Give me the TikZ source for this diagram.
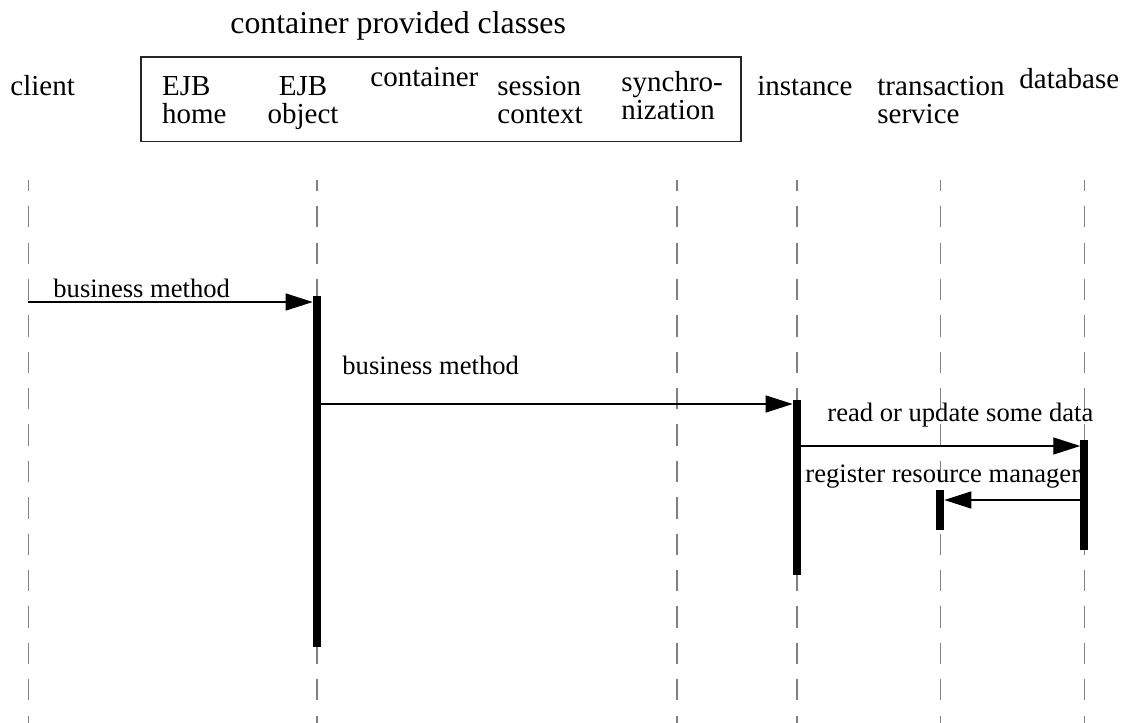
\documentclass[tikz,border=0pt]{standalone}
\usepackage{fontspec}
\setmainfont{Liberation Serif}
\usetikzlibrary{arrows.meta}
\definecolor{lifegray}{HTML}{808080}
\begin{document}
\begin{tikzpicture}[x=0.5pt,y=-0.5pt,
  hdr/.style={anchor=base west, inner sep=0pt, font=\fontsize{14.5}{14}\selectfont},
  hdrc/.style={anchor=base, inner sep=0pt, font=\fontsize{14.5}{14}\selectfont},
  ttl/.style={anchor=base west, inner sep=0pt, font=\fontsize{15.9}{18}\selectfont},
  lbl/.style={anchor=base west, inner sep=0pt, font=\fontsize{13.3}{16}\selectfont},
  lifeline/.style={draw=lifegray, line width=0.8pt, dash pattern=on 10.65pt off 7.54pt, dash phase=5.1pt},
  actbar/.style={fill=black, draw=none, minimum width=4pt, inner sep=0pt, outer sep=0pt},
  msg/.style={line width=0.6pt, -{Triangle[length=13.5pt,width=8.5pt]}},
  grp/.style={draw=black!85, line width=0.8pt, inner sep=0pt, outer sep=0pt}]
\useasboundingbox (0,0) rectangle (1131,723);

% title and group box
\node[ttl] (title) at (230,33) {container provided classes};
\node[grp, anchor=north west, minimum width=300pt, minimum height=42.25pt] (box) at (140.7,57) {};

% header labels
\node[hdr] (client) at (10,95) {client};
\node[hdr] (ejbhome) at (161.7,95) {\begin{tabular}[t]{@{}l@{}}EJB\\home\end{tabular}};
\node[hdrc] (ejbobject) at (303,95) {\begin{tabular}[t]{@{}c@{}}EJB\\object\end{tabular}};
\node[hdr] (container) at (370,86) {container};
\node[hdr] (session) at (497,95) {\begin{tabular}[t]{@{}l@{}}session\\context\end{tabular}};
\node[hdr] (sync) at (621,91) {\begin{tabular}[t]{@{}l@{}}synchro-\\nization\end{tabular}};
\node[hdr] (instance) at (757,95) {instance};
\node[hdr] (txservice) at (877,95) {\begin{tabular}[t]{@{}l@{}}transaction\\service\end{tabular}};
\node[hdr] (database) at (1019,88) {database};

% lifelines
\foreach \n/\x in {lc/28.3, lo/316.7, ls/676.7, li/796.7, lt/940.3, ld/1084.3}{
  \coordinate (\n-top) at (\x,180);
  \coordinate (\n-bot) at (\x,723);
  \draw[lifeline] (\n-top) -- (\n-bot);
}

% activation bars
\node[actbar, minimum height=175.5pt] (ejbbar) at (316.7,471.5) {};
\node[actbar, minimum height=87.5pt] (instbar) at (796.7,487.5) {};
\node[actbar, minimum height=55pt] (dbbar) at (1084.3,495) {};
\node[actbar, minimum height=20pt] (txbar) at (940.3,510) {};

% messages
\coordinate (m1) at (28.3,302);
\coordinate (m2) at (0,404);
\coordinate (m3) at (0,446);
\coordinate (m4) at (0,500);
\draw[msg] (m1) -- (ejbbar.west |- m1);
\draw[msg] (ejbbar.east |- m2) -- (instbar.west |- m2);
\draw[msg] (instbar.east |- m3) -- (dbbar.west |- m3);
\draw[msg] (dbbar.west |- m4) -- (txbar.east |- m4);

% message labels
\node[lbl] (l1) at (53,297) {business method};
\node[lbl] (l2) at (342,374) {business method};
\node[lbl] (l3) at (827,421) {read or update some data};
\node[lbl] (l4) at (805,482) {register resource manager};
\end{tikzpicture}
\end{document}
